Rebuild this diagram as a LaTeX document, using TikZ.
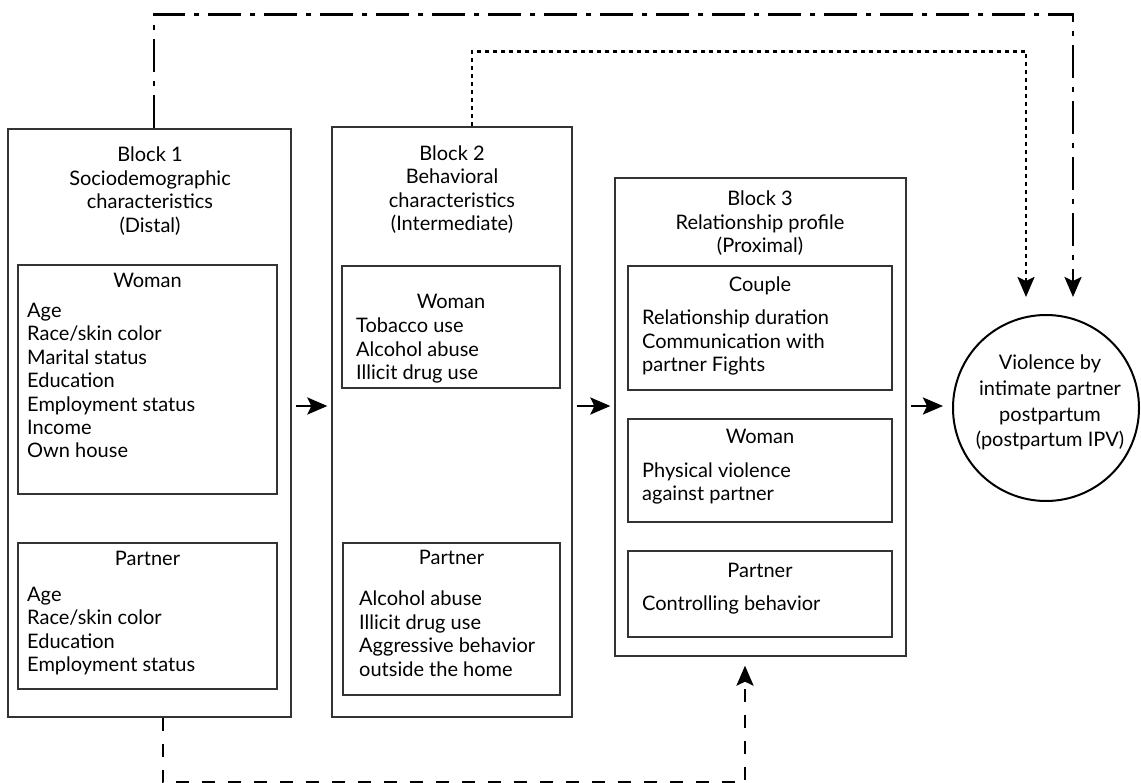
\documentclass[tikz,border=0pt]{standalone}
\usepackage{fontspec}
\setmainfont{Lato}
\usetikzlibrary{arrows.meta}

\tikzset{
  box/.style 2 args={draw=black!80, line width=1.3pt, minimum width=#1, minimum height=#2, inner sep=0pt},
  txt/.style={inner sep=0pt, font=\fontsize{20}{23.5}\selectfont},
  link/.style={line width=2.5pt, -{Stealth[length=20pt,width=17pt,inset=4pt]}},
  dashdot/.style={dash pattern=on 33pt off 9pt on 5pt off 9pt},
  dotline/.style={dash pattern=on 4pt off 4pt},
  dashline/.style={dash pattern=on 13pt off 13pt},
}

\begin{document}
\begin{tikzpicture}[x=1pt, y=-1pt]
    \useasboundingbox (0,0) rectangle (1141,783);

    % Block 1 (text nodes sit on the baseline of their last line)
    \node[box={283pt}{588pt}] (b1) at (149.5,423) {};
    \node[txt, align=center, anchor=base] (b1t) at (150,232.5)
        {Block 1\\Sociodemographic\\characteristics\\(Distal)};
    \node[box={259pt}{229pt}] (b1w) at (147.5,379.5) {};
    \node[txt, anchor=base] (b1wh) at (147.5,288) {Woman};
    \node[txt, align=left, anchor=base west] (b1wl) at (27,458)
        {Age\\Race/skin color\\Marital status\\Education\\Employment status\\Income\\Own house};
    \node[box={259pt}{146pt}] (b1p) at (147.5,616) {};
    \node[txt, anchor=base] (b1ph) at (147.5,565) {Partner};
    \node[txt, align=left, anchor=base west] (b1pl) at (27,671.5)
        {Age\\Race/skin color\\Education\\Employment status};

    % Block 2
    \node[box={240pt}{590pt}] (b2) at (452,422) {};
    \node[txt, align=center, anchor=base] (b2t) at (452,231)
        {Block 2\\Behavioral\\characteristics\\(Intermediate)};
    \node[box={218pt}{122pt}] (b2w) at (451,327) {};
    \node[txt, anchor=base] (b2wh) at (451,309) {Woman};
    \node[txt, align=left, anchor=base west] (b2wl) at (356,380)
        {Tobacco use\\Alcohol abuse\\Illicit drug use};
    \node[box={217pt}{152pt}] (b2p) at (451.5,619) {};
    \node[txt, anchor=base] (b2ph) at (451.5,564) {Partner};
    \node[txt, align=left, anchor=base west] (b2pl) at (359,676)
        {Alcohol abuse\\Illicit drug use\\Aggressive behavior\\outside the home};

    % Block 3
    \node[box={291pt}{478pt}] (b3) at (760.5,417) {};
    \node[txt, align=center, anchor=base] (b3t) at (760,253)
        {Block 3\\Relationship profile\\(Proximal)};
    \node[box={264pt}{124pt}] (b3c) at (760,328) {};
    \node[txt, anchor=base] (b3ch) at (760,292) {Couple};
    \node[txt, align=left, anchor=base west] (b3cl) at (642,372)
        {Relationship duration\\Communication with\\partner Fights};
    \node[box={264pt}{103pt}] (b3w) at (760,470.5) {};
    \node[txt, anchor=base] (b3wh) at (760,444) {Woman};
    \node[txt, align=left, anchor=base west] (b3wl) at (642,500.5)
        {Physical violence\\against partner};
    \node[box={264pt}{86pt}] (b3p) at (760,594) {};
    \node[txt, anchor=base] (b3ph) at (760,577) {Partner};
    \node[txt, anchor=base west] (b3pl) at (642,610) {Controlling behavior};

    % Outcome
    \node[circle, draw, line width=2pt, minimum size=186pt, inner sep=0pt] (ipv) at (1046,408) {};
    \node[txt, align=center, anchor=base, font=\fontsize{20}{25.6}\selectfont] (ipvt) at (1050,446.8)
        {Violence by\\intimate partner\\postpartum\\(postpartum IPV)};

    \coordinate (ddend) at (1073,297);
    \coordinate (dotend) at (1026,297);

    % Arrows
    \draw[link, shorten <=4pt, shorten >=4pt] ([yshift=17pt]b1.east) -- ([yshift=17pt]b1.east -| b2.west);
    \draw[link, shorten <=4pt, shorten >=4pt] ([yshift=16pt]b2.east) -- ([yshift=16pt]b2.east -| b3.west);
    \draw[link, shorten <=4pt, shorten >=9pt] ([yshift=11pt]b3.east) -- ([yshift=11pt]b3.east -| ipv.west);
    \draw[link, dashdot] ([xshift=4.5pt]b1.north) -- ++(0,-114) -| (ddend);
    \draw[link, dotline] ([xshift=20pt]b2.north) -- ++(0,-75) -| (dotend);
    \draw[link, dashline, shorten >=9pt] ([xshift=13.5pt]b1.south) -- ++(0,65) -| ([xshift=-15.5pt]b3.south);
\end{tikzpicture}
\end{document}
